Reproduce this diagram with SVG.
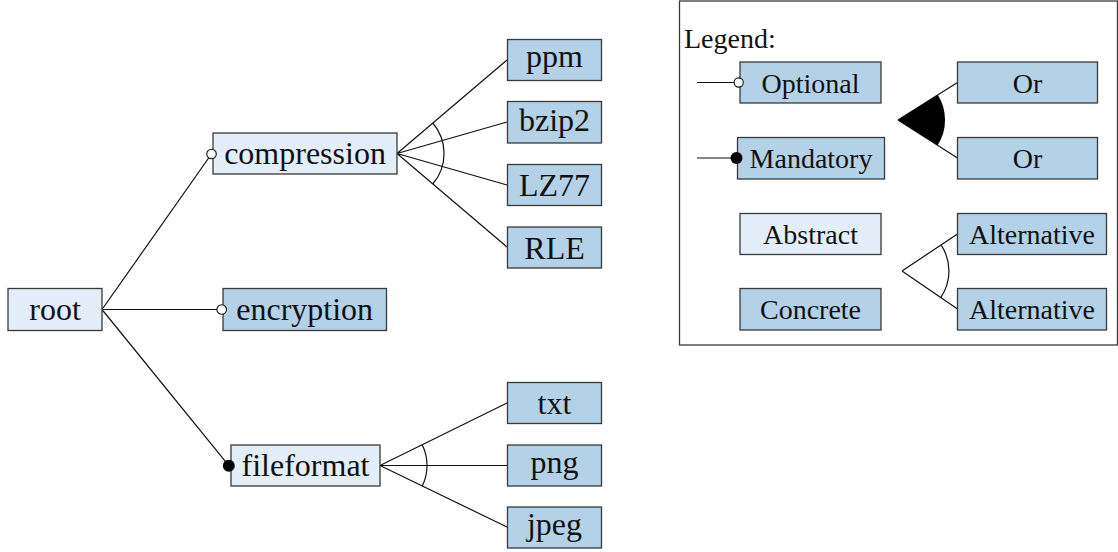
<svg xmlns="http://www.w3.org/2000/svg" width="1118" height="552" viewBox="0 0 1118 552">
<style>
.abs{fill:#e3eef8;stroke:#3a3a3a;stroke-width:1.3}
.con{fill:#b3d2e7;stroke:#3a3a3a;stroke-width:1.3}
.t{font-family:'Liberation Serif',serif;font-size:32px;fill:#111}
.lt{font-family:'Liberation Serif',serif;font-size:28px;fill:#111}
.ln{stroke:#111;stroke-width:1.2;fill:none}
.oc{fill:#fff;stroke:#111;stroke-width:1.1}
.fc{fill:#000}
</style>
<g id="connectors">
<path class="ln" d="M102 309.5 L211.5 154 M102 309.5 L221.7 309.5 M102 309.5 L228.8 465.7"/>
<path class="ln" d="M397 153.5 L507 60 M397 153.5 L507 122 M397 153.5 L507 185 M397 153.5 L507 247"/>
<path class="ln" d="M432.8 123 A47 47 0 0 1 432.8 184"/>
<path class="ln" d="M380 465.5 L507 403 M380 465.5 L507 465.5 M380 465.5 L507 527"/>
<path class="ln" d="M422.2 444.8 A47 47 0 0 1 422.2 486.2"/>
</g>
<g id="root"><rect class="abs" x="8" y="288.5" width="94" height="42"/><text class="t" text-anchor="middle" x="55" y="319.5">root</text></g>
<g id="compression"><rect class="abs" x="213" y="133" width="184" height="41"/><text class="t" text-anchor="middle" x="305" y="163.5">compression</text></g>
<g id="encryption"><rect class="con" x="223" y="288.5" width="163.5" height="42"/><text class="t" text-anchor="middle" x="304.7" y="319.5">encryption</text></g>
<g id="fileformat"><rect class="abs" x="231" y="445" width="149" height="41"/><text class="t" text-anchor="middle" x="305.5" y="475.5">fileformat</text></g>
<g id="ppm"><rect class="con" x="507.5" y="39.5" width="94" height="41"/><text class="t" text-anchor="middle" x="554.5" y="67">ppm</text></g>
<g id="bzip2"><rect class="con" x="507.5" y="101.5" width="94" height="41.5"/><text class="t" text-anchor="middle" x="554.5" y="131">bzip2</text></g>
<g id="LZ77"><rect class="con" x="507.5" y="164.5" width="94" height="41"/><text class="t" text-anchor="middle" x="554.5" y="196">LZ77</text></g>
<g id="RLE"><rect class="con" x="507.5" y="227" width="94" height="41"/><text class="t" text-anchor="middle" x="554.5" y="258.5">RLE</text></g>
<g id="txt"><rect class="con" x="507.5" y="382.5" width="94" height="41"/><text class="t" text-anchor="middle" x="554.5" y="413.5">txt</text></g>
<g id="png"><rect class="con" x="507.5" y="445" width="94" height="41"/><text class="t" text-anchor="middle" x="554.5" y="473">png</text></g>
<g id="jpeg"><rect class="con" x="507.5" y="507" width="94" height="41"/><text class="t" text-anchor="middle" x="554.5" y="535">jpeg</text></g>
<g id="markers">
<circle class="oc" cx="211.5" cy="154" r="4.8"/>
<circle class="oc" cx="221.7" cy="309.5" r="4.8"/>
<circle class="fc" cx="228.8" cy="465.7" r="6"/>
</g>
<g id="legend">
<rect x="679.5" y="1" width="438" height="344" fill="none" stroke="#3a3a3a" stroke-width="1.3"/>
<text class="lt" x="684" y="48">Legend:</text>
<path class="ln" d="M697 82.5 L738.7 82.5 M697 158 L736.5 158"/>
<rect class="con" x="740" y="62" width="141" height="41"/><text class="lt" text-anchor="middle" x="810.5" y="92.5">Optional</text>
<circle class="oc" cx="738.7" cy="82.5" r="4.6"/>
<rect class="con" x="737.5" y="137.5" width="147" height="41.5"/><text class="lt" text-anchor="middle" x="811" y="167.5">Mandatory</text>
<circle class="fc" cx="736.5" cy="158" r="6"/>
<rect class="abs" x="740" y="213.5" width="141" height="41"/><text class="lt" text-anchor="middle" x="810.5" y="243.5">Abstract</text>
<rect class="con" x="740" y="288.5" width="141" height="41.5"/><text class="lt" text-anchor="middle" x="810.5" y="318.5">Concrete</text>
<path class="ln" d="M898 120 L957.5 82.5 M898 120 L957.5 158"/>
<path d="M898 120 L937.7 94.8 A47 47 0 0 1 937.7 145.2 Z" fill="#000"/>
<rect class="con" x="957.5" y="62" width="140" height="41"/><text class="lt" text-anchor="middle" x="1027.5" y="92.5">Or</text>
<rect class="con" x="957.5" y="137.5" width="140" height="41.5"/><text class="lt" text-anchor="middle" x="1027.5" y="167.5">Or</text>
<path class="ln" d="M902 271 L957.5 234 M902 271 L957.5 309"/>
<path class="ln" d="M940.9 244.7 A47 47 0 0 1 940.9 297.3"/>
<rect class="con" x="957.5" y="213.5" width="149" height="41"/><text class="lt" text-anchor="middle" x="1032" y="243.5">Alternative</text>
<rect class="con" x="957.5" y="288.5" width="149" height="41.5"/><text class="lt" text-anchor="middle" x="1032" y="318.5">Alternative</text>
</g>
</svg>
